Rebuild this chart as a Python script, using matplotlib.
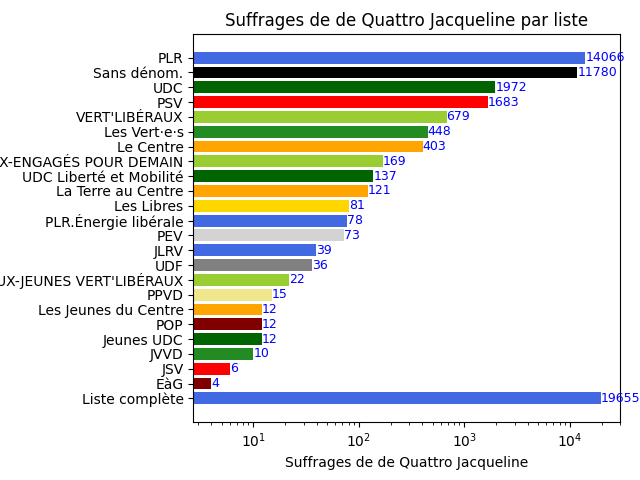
import matplotlib
matplotlib.use("Agg")
import matplotlib.pyplot as plt

labels = ["PLR", "Sans dénom.", "UDC", "PSV", "VERT'LIBÉRAUX", "Les Vert·e·s", "Le Centre",
          "VERT'LIBÉRAUX-ENGAGÉS POUR DEMAIN", "UDC Liberté et Mobilité", "La Terre au Centre",
          "Les Libres", "PLR.Énergie libérale", "PEV", "JLRV", "UDF",
          "VERT'LIBÉRAUX-JEUNES VERT'LIBÉRAUX", "PPVD", "Les Jeunes du Centre", "POP",
          "Jeunes UDC", "JVVD", "JSV", "EàG", "Liste complète"]
values = [14066, 11780, 1972, 1683, 679, 448, 403, 169, 137, 121, 81, 78, 73, 39, 36, 22,
          15, 12, 12, 12, 10, 6, 4, 19655]
colors = ["royalblue", "black", "darkgreen", "red", "yellowgreen", "forestgreen", "orange",
          "yellowgreen", "darkgreen", "orange", "gold", "royalblue", "lightgray", "royalblue",
          "gray", "yellowgreen", "khaki", "orange", "maroon", "darkgreen", "forestgreen", "red",
          "maroon", "royalblue"]

fig, ax = plt.subplots(figsize=(6.4, 4.8), dpi=100)
fig.subplots_adjust(left=0.302, right=0.969, top=0.929, bottom=0.121)
y = list(range(len(labels)))
ax.barh(y, values, color=colors)
ax.set_xscale("log")
ax.set_yticks(y)
ax.set_yticklabels(labels)
ax.invert_yaxis()
ax.set_xlim(2.7, 30000)
for yi, v in zip(y, values):
    ax.text(v, yi, str(v), color="blue", va="center", ha="left", fontsize=9)
ax.set_xlabel("Suffrages de de Quattro Jacqueline")
ax.set_title("Suffrages de de Quattro Jacqueline par liste")
fig.savefig("out.png")
